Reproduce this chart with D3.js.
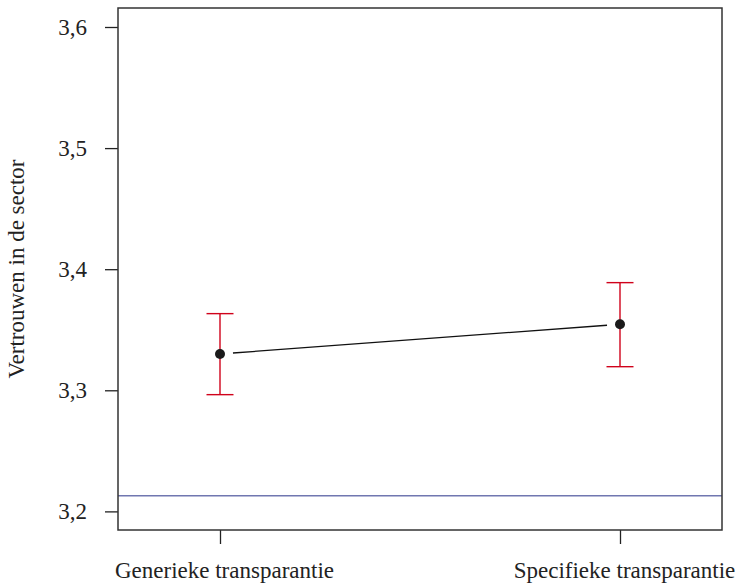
<!DOCTYPE html>
<html>
<head>
<meta charset="utf-8">
<script src="https://cdn.jsdelivr.net/npm/d3@7"></script>
<style>
  body { margin: 0; background: #fff; }
  svg text { font-family: "Liberation Serif", "DejaVu Serif", serif; fill: #222; }
</style>
</head>
<body>
<svg id="chart" width="739" height="583"></svg>
<script>
// Mean trust in the sector per transparency condition, with interval bounds
const conditions = ["Generieke transparantie", "Specifieke transparantie"];
const means = [3.330, 3.3545];
const lower = [3.2964, 3.3195];
const upper = [3.3633, 3.3889];
const referenceLevel = [3.213];
const yTicks = [3.2, 3.3, 3.4, 3.5, 3.6];
const yTitle = "Vertrouwen in de sector";

const svg = d3.select("#chart");
const plot = { left: 118, right: 722, top: 8, bottom: 530 };

const x = d3.scalePoint()
  .domain(conditions)
  .range([220, 620]);

const y = d3.scaleLinear()
  .domain([3.18463, 3.61569])
  .range([plot.bottom, plot.top]);

const fmt = v => d3.format(".1f")(v).replace(".", ",");

// Y axis
const yAxis = svg.append("g")
  .attr("transform", `translate(${plot.left},0)`)
  .call(d3.axisLeft(y).tickValues(yTicks).tickFormat(fmt).tickSize(13).tickPadding(18));
yAxis.select(".domain").remove();
yAxis.selectAll("line").attr("stroke", "#222").attr("stroke-width", 1.3);
yAxis.selectAll("text").attr("font-size", 23).attr("fill", "#222");

// X axis
const xAxis = svg.append("g")
  .attr("transform", `translate(0,${plot.bottom})`)
  .call(d3.axisBottom(x).tickSize(14).tickPadding(18));
xAxis.select(".domain").remove();
xAxis.selectAll("line").attr("stroke", "#222").attr("stroke-width", 1.3);
xAxis.selectAll("text").attr("font-size", 23).attr("fill", "#222").attr("dx", 4);

// Y title
svg.append("text")
  .attr("transform", `translate(24,${(plot.top + plot.bottom) / 2}) rotate(-90)`)
  .attr("text-anchor", "middle")
  .attr("font-size", 23)
  .text(yTitle);

// Reference line
svg.selectAll(".ref")
  .data(referenceLevel)
  .enter().append("line")
  .attr("x1", plot.left).attr("x2", plot.right)
  .attr("y1", d => y(d)).attr("y2", d => y(d))
  .attr("stroke", "#7077b0").attr("stroke-width", 1.5);

// Connecting line with gaps around the points
const gap = 13;
const x0 = x(conditions[0]), x1 = x(conditions[1]);
const y0 = y(means[0]), y1 = y(means[1]);
const len = Math.hypot(x1 - x0, y1 - y0);
const ux = (x1 - x0) / len, uy = (y1 - y0) / len;
svg.append("line")
  .attr("x1", x0 + ux * gap).attr("y1", y0 + uy * gap)
  .attr("x2", x1 - ux * gap).attr("y2", y1 - uy * gap)
  .attr("stroke", "#111").attr("stroke-width", 1.3);

// Error bars
const bars = svg.selectAll(".err")
  .data(conditions)
  .enter().append("g").attr("class", "err");
const red = "#d0021b";
bars.append("line")
  .attr("x1", d => x(d)).attr("x2", d => x(d))
  .attr("y1", (d, i) => y(lower[i])).attr("y2", (d, i) => y(upper[i]))
  .attr("stroke", red).attr("stroke-width", 1.4);
bars.append("line")
  .attr("x1", d => x(d) - 13.5).attr("x2", d => x(d) + 13.5)
  .attr("y1", (d, i) => y(upper[i])).attr("y2", (d, i) => y(upper[i]))
  .attr("stroke", red).attr("stroke-width", 1.4);
bars.append("line")
  .attr("x1", d => x(d) - 13.5).attr("x2", d => x(d) + 13.5)
  .attr("y1", (d, i) => y(lower[i])).attr("y2", (d, i) => y(lower[i]))
  .attr("stroke", red).attr("stroke-width", 1.4);

// Mean points
svg.selectAll(".pt")
  .data(conditions)
  .enter().append("circle")
  .attr("cx", d => x(d))
  .attr("cy", (d, i) => y(means[i]))
  .attr("r", 5)
  .attr("fill", "#1a1a1a");

// Plot frame
svg.append("rect")
  .attr("x", plot.left).attr("y", plot.top)
  .attr("width", plot.right - plot.left).attr("height", plot.bottom - plot.top)
  .attr("fill", "none").attr("stroke", "#333").attr("stroke-width", 1.5);
</script>
</body>
</html>
